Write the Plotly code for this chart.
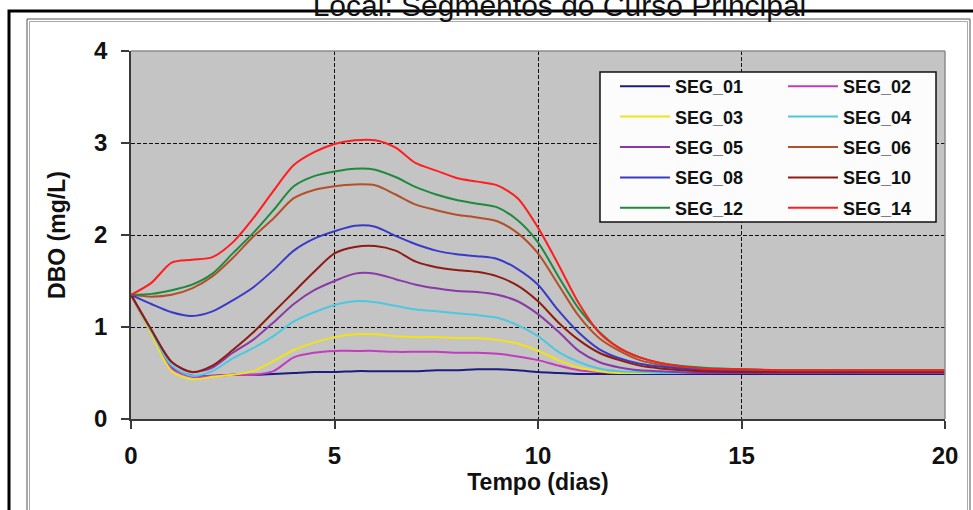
import plotly.graph_objects as go

# Time axis (days)
tempo = [0, 0.5, 1, 1.5, 2, 2.5, 3, 3.5, 4, 4.5, 5, 5.5, 6, 6.5, 7, 7.5, 8, 8.5,
         9, 9.5, 10, 10.5, 11, 11.5, 12, 12.5, 13, 14, 15, 16, 17, 18, 19, 20]

# DBO (mg/L) per segment
seg_01 = [1.35, 0.93, 0.56, 0.47, 0.47, 0.48, 0.48, 0.49, 0.50, 0.51, 0.51, 0.52, 0.52, 0.52, 0.52, 0.53, 0.53,
          0.54, 0.54, 0.53, 0.51, 0.50, 0.49, 0.49, 0.49, 0.49, 0.49, 0.49, 0.49, 0.49, 0.49, 0.49, 0.49, 0.49]
seg_02 = [1.35, 0.93, 0.55, 0.46, 0.47, 0.48, 0.48, 0.52, 0.67, 0.72, 0.74, 0.74, 0.74, 0.73, 0.73, 0.73, 0.72,
          0.72, 0.71, 0.68, 0.64, 0.58, 0.53, 0.51, 0.50, 0.50, 0.50, 0.50, 0.50, 0.50, 0.50, 0.50, 0.50, 0.50]
seg_03 = [1.35, 0.92, 0.52, 0.43, 0.46, 0.48, 0.52, 0.63, 0.75, 0.83, 0.89, 0.92, 0.92, 0.90, 0.89, 0.89, 0.88,
          0.88, 0.86, 0.82, 0.74, 0.64, 0.56, 0.52, 0.50, 0.50, 0.50, 0.50, 0.50, 0.50, 0.50, 0.50, 0.50, 0.50]
seg_04 = [1.35, 0.95, 0.58, 0.47, 0.52, 0.66, 0.77, 0.90, 1.06, 1.16, 1.24, 1.28, 1.27, 1.23, 1.19, 1.17, 1.15,
          1.13, 1.10, 1.02, 0.90, 0.73, 0.62, 0.55, 0.52, 0.51, 0.50, 0.50, 0.50, 0.50, 0.50, 0.50, 0.50, 0.50]
seg_05 = [1.35, 0.97, 0.62, 0.51, 0.56, 0.72, 0.86, 1.05, 1.25, 1.40, 1.50, 1.58, 1.58, 1.52, 1.46, 1.42, 1.39,
          1.38, 1.35, 1.28, 1.14, 0.95, 0.74, 0.62, 0.56, 0.53, 0.52, 0.50, 0.50, 0.50, 0.50, 0.50, 0.50, 0.50]
seg_06 = [1.35, 1.33, 1.35, 1.42, 1.55, 1.75, 1.98, 2.18, 2.40, 2.49, 2.53, 2.55, 2.54, 2.44, 2.33, 2.27, 2.22,
          2.19, 2.15, 2.02, 1.80, 1.46, 1.12, 0.88, 0.74, 0.64, 0.59, 0.54, 0.53, 0.52, 0.52, 0.52, 0.52, 0.52]
seg_08 = [1.35, 1.25, 1.16, 1.12, 1.17, 1.29, 1.43, 1.62, 1.83, 1.96, 2.04, 2.10, 2.09, 1.99, 1.90, 1.83, 1.79,
          1.77, 1.74, 1.63, 1.46, 1.18, 0.94, 0.76, 0.66, 0.60, 0.57, 0.53, 0.52, 0.52, 0.51, 0.51, 0.51, 0.51]
seg_10 = [1.35, 0.97, 0.62, 0.51, 0.58, 0.75, 0.94, 1.16, 1.38, 1.60, 1.80, 1.87, 1.88, 1.83, 1.71, 1.65, 1.62,
          1.60, 1.55, 1.45, 1.28, 1.05, 0.86, 0.72, 0.64, 0.58, 0.55, 0.52, 0.51, 0.51, 0.51, 0.51, 0.51, 0.51]
seg_12 = [1.35, 1.36, 1.40, 1.46, 1.58, 1.80, 2.02, 2.27, 2.53, 2.64, 2.69, 2.72, 2.71, 2.63, 2.52, 2.44, 2.38,
          2.34, 2.30, 2.16, 1.92, 1.55, 1.20, 0.95, 0.77, 0.67, 0.61, 0.56, 0.54, 0.53, 0.53, 0.53, 0.53, 0.53]
seg_14 = [1.35, 1.48, 1.70, 1.73, 1.76, 1.92, 2.18, 2.48, 2.76, 2.90, 2.99, 3.03, 3.03, 2.95, 2.78, 2.70, 2.62,
          2.58, 2.54, 2.40, 2.08, 1.68, 1.26, 0.94, 0.77, 0.67, 0.61, 0.55, 0.54, 0.53, 0.53, 0.53, 0.53, 0.53]

nomes = ["SEG_01", "SEG_02", "SEG_03", "SEG_04", "SEG_05",
         "SEG_06", "SEG_08", "SEG_10", "SEG_12", "SEG_14"]
series = [seg_01, seg_02, seg_03, seg_04, seg_05, seg_06, seg_08, seg_10, seg_12, seg_14]
cores = ["#1c1c82", "#c23cc0", "#f2e21a", "#4cc8e0", "#8a3aa8",
         "#b2502a", "#3a3ac8", "#8e1c14", "#1f8a3c", "#ff1e1e"]

x_ticks = [0, 5, 10, 15, 20]
y_ticks = [0, 1, 2, 3, 4]

W, H = 973, 510
L, R, T, B = 131, 28, 51, 91
PW, PH = W - L - R, H - T - B


def px(xp):
    return (xp - L) / PW


def py(yp):
    return (H - B - yp) / PH


fig = go.Figure()
for i, (nome, vals, cor) in enumerate(zip(nomes, series, cores)):
    fig.add_trace(go.Scatter(
        x=tempo, y=vals, name=nome, mode="lines",
        line=dict(color=cor, width=2, shape="spline", smoothing=0.8),
        legend="legend" if i % 2 == 0 else "legend2",
        legendgroup=nome,
    ))

axis_font = dict(family="Liberation Sans, Arial, sans-serif", size=24, color="#111", weight="bold")
title_font = dict(family="Liberation Sans, Arial, sans-serif", size=23, color="#111", weight="bold")
leg_font = dict(family="Liberation Sans, Arial, sans-serif", size=18, color="#111", weight="bold")

common_axis = dict(
    showgrid=True, gridcolor="#111", gridwidth=1, griddash="4px,2px",
    showline=True, linecolor="#3a3a3a", linewidth=1.5,
    ticks="outside", ticklen=8, tickcolor="#3a3a3a", tickwidth=1.5,
    tickfont=axis_font, zeroline=False, fixedrange=True,
)

leg_common = dict(
    bgcolor="rgba(0,0,0,0)", borderwidth=0, font=leg_font,
    xanchor="left", yanchor="top", itemwidth=50, tracegroupgap=4,
    orientation="v",
)

shapes = [
    # outer page frame
    dict(type="rect", xref="paper", yref="paper", x0=px(9), x1=px(990), y0=py(530), y1=py(11),
         line=dict(color="#000", width=3), layer="above"),
    dict(type="rect", xref="paper", yref="paper", x0=px(27), x1=px(970), y0=py(530), y1=py(19),
         line=dict(color="#555", width=1), layer="above"),
    dict(type="rect", xref="paper", yref="paper", x0=px(29.5), x1=px(967.5), y0=py(530), y1=py(21.5),
         line=dict(color="#aaa", width=1), layer="above"),
    # plot area top and right edges
    dict(type="line", xref="paper", yref="paper", x0=0, x1=1, y0=1, y1=1,
         line=dict(color="#8c8c8c", width=1.5), layer="above"),
    dict(type="line", xref="paper", yref="paper", x0=1, x1=1, y0=0, y1=1,
         line=dict(color="#8c8c8c", width=1.5), layer="above"),
    # legend box
    dict(type="rect", xref="paper", yref="paper", x0=px(600), x1=px(936), y0=py(222), y1=py(72),
         fillcolor="#fcfcfc", line=dict(color="#111", width=1.5), layer="above"),
]

fig.update_layout(
    width=W, height=H, autosize=False,
    margin=dict(l=L, r=R, t=T, b=B, pad=0),
    paper_bgcolor="#ffffff", plot_bgcolor="#c4c4c4",
    title=dict(text="Local: Segmentos do Curso Principal", x=0.575, xanchor="center",
               y=1 - 5 / H, yanchor="middle", yref="container",
               font=dict(family="Liberation Sans, Arial, sans-serif", size=30, color="#111")),
    xaxis=dict(range=[0, 20], tickvals=x_ticks, ticktext=[str(v) for v in x_ticks],
               ticklabelstandoff=6,
               title=dict(text="Tempo (dias)", font=title_font, standoff=0), **common_axis),
    yaxis=dict(range=[0, 4], tickvals=y_ticks, ticktext=[str(v) for v in y_ticks],
               ticklabelstandoff=9,
               title=dict(text="DBO (mg/L)", font=title_font, standoff=22), **common_axis),
    legend=dict(x=px(615), y=py(68), **leg_common),
    legend2=dict(x=px(783), y=py(68), **leg_common),
    shapes=shapes,
    showlegend=True,
)

fig.write_html("out.html")
